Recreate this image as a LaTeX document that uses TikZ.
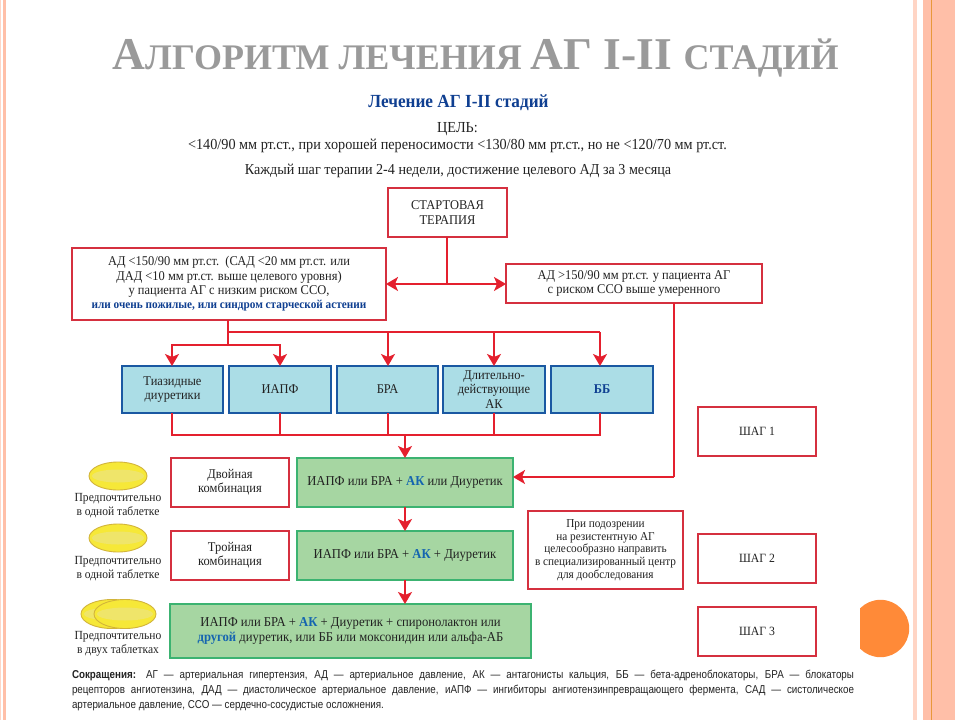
\documentclass[tikz,border=0pt]{standalone}
\usepackage{fontspec}
\setmainfont{Liberation Serif}[FakeStretch=0.93]
\newfontfamily\titlefont{Liberation Serif}
\newfontfamily\footfont{Liberation Sans}[FakeStretch=0.86]
\usetikzlibrary{arrows.meta}
\definecolor{txt}{HTML}{222222}
\definecolor{boxred}{HTML}{D5303F}
\definecolor{linered}{HTML}{E4202E}
\definecolor{bluefill}{HTML}{ABDDE6}
\definecolor{blueline}{HTML}{1A58A2}
\definecolor{greenfill}{HTML}{A6D6A2}
\definecolor{greenline}{HTML}{3CB371}
\definecolor{navy}{HTML}{0F3F91}
\definecolor{akblue}{HTML}{1565B0}
\definecolor{salmon}{HTML}{FFBFA8}
\definecolor{paleorange}{HTML}{FFD5C5}
\definecolor{stripeline}{HTML}{E8983A}
\definecolor{orangedisc}{HTML}{FF8A38}
\definecolor{titlegray}{HTML}{9A9A9A}
\definecolor{pillfill}{HTML}{F6E838}
\definecolor{pillband}{HTML}{EFE56A}
\definecolor{pillline}{HTML}{D2B43A}
\newcommand{\fsz}[2]{\fontsize{#1pt}{#2pt}\selectfont}
\tikzset{
  x=1pt,y=-1pt,
  base/.style={inner sep=0pt,outer sep=0pt,align=center,text=txt,font=\fsz{13.4}{14.4}},
  redbox/.style={base,draw=boxred,line width=1.6pt,fill=white},
  bluebox/.style={base,draw=blueline,line width=1.6pt,fill=bluefill},
  greenbox/.style={base,draw=greenline,line width=1.6pt,fill=greenfill,font=\fsz{13.6}{14.4}},
  stepbox/.style={redbox,font=\fsz{12.6}{14.4}},
  notebox/.style={redbox,font=\fsz{12.1}{12.7}},
  conn/.style={draw=linered,line width=1.8pt},
  arr/.style={conn,-{Stealth[length=12pt,width=14pt,inset=3pt,fill=linered]}},
  pill/.style={draw=pillline,line width=0.9pt,fill=pillfill},
  plain/.style={base},
  tablet/.style={base,font=\fsz{12.4}{13.6}},
}
\newcommand{\bx}[7]{% style,name,x1,y1,x2,y2,text
  \pgfmathsetmacro{\cx}{(#3+#5)/2}\pgfmathsetmacro{\cy}{(#4+#6)/2}
  \pgfmathsetmacro{\ww}{#5-#3}\pgfmathsetmacro{\hh}{#6-#4}
  \node[#1,minimum width=\ww pt,minimum height=\hh pt] (#2) at (\cx,\cy) {#7};}
\newcommand{\pillshape}[5]{% name,cx,cy,rx,ry
  \node[inner sep=0pt,minimum size=0pt] (#1) at (#2,#3) {};
  \draw[pill] (#1) ellipse [x radius=#4,y radius=#5];
  \fill[pillband] (#1) ellipse [x radius=#4-3,y radius=6.5];}
\begin{document}
\begin{tikzpicture}
\useasboundingbox (0,0) rectangle (955,720);
\fill[white] (0,0) rectangle (955,720);
% page stripes
\fill[paleorange] (0,0) rectangle (1.2,720);
\fill[salmon] (3.3,0) rectangle (6,720);
\fill[paleorange] (913,0) rectangle (917,720);
\fill[salmon] (923,0) rectangle (955,720);
\fill[stripeline] (930.6,0) rectangle (931.6,720);
% orange disc
\begin{scope}
\clip (860,590) rectangle (915,665);
\fill[orangedisc] (880.5,628.5) circle [radius=28.7];
\end{scope}
% headings
\node[plain,anchor=base,text=titlegray,font=\titlefont\bfseries\fsz{45.5}{46}] (title) at (475.5,69)
  {А\fontsize{36}{36}\selectfont ЛГОРИТМ ЛЕЧЕНИЯ \fontsize{45.5}{46}\selectfont АГ I-II \fontsize{36}{36}\selectfont СТАДИЙ};
\node[plain,text=navy,font=\bfseries\fsz{18.5}{20}] (sub) at (458.5,103) {Лечение АГ I-II стадий};
\node[plain,font=\fsz{15.3}{17}] (goal) at (457.5,137.5) {ЦЕЛЬ:\\<140/90 мм рт.ст., при хорошей переносимости <130/80 мм рт.ст., но не <120/70 мм рт.ст.};
\node[plain,font=\fsz{15.2}{17}] (every) at (458,170.5) {Каждый шаг терапии 2-4 недели, достижение целевого АД за 3 месяца};
% top boxes
\bx{redbox}{start}{388}{188}{507}{237}{СТАРТОВАЯ\\ТЕРАПИЯ}
\bx{redbox}{lowrisk}{72}{248}{386}{320}{АД <150/90 мм рт.ст.\ \ (САД <20 мм рт.ст. или\\ДАД <10 мм рт.ст. выше целевого уровня)\\у пациента АГ с низким риском ССО,\\{\color{navy}\bfseries\fsz{12.1}{14.4}или очень пожилые, или синдром старческой астении}}
\bx{redbox}{highrisk}{506}{264}{762}{303}{АД >150/90 мм рт.ст. у пациента АГ\\с риском ССО выше умеренного}
% drug classes
\bx{bluebox}{thz}{122}{366}{223}{413}{Тиазидные\\диуретики}
\bx{bluebox}{iapf}{229}{366}{331}{413}{ИАПФ}
\bx{bluebox}{bra}{337}{366}{438}{413}{БРА}
\bx{bluebox}{ak}{443}{366}{545}{413}{Длительно-\\действующие\\АК}
\bx{bluebox}{bb}{551}{366}{653}{413}{\color{navy}\bfseries ББ}
% combinations
\bx{redbox}{dual}{171}{458}{289}{507}{Двойная\\комбинация}
\bx{redbox}{triple}{171}{531}{289}{580}{Тройная\\комбинация}
\bx{greenbox}{g1}{297}{458}{513}{507}{ИАПФ или БРА + {\color{akblue}\bfseries АК} или Диуретик}
\bx{greenbox}{g2}{297}{531}{513}{580}{ИАПФ или БРА + {\color{akblue}\bfseries АК} + Диуретик}
\bx{greenbox}{g3}{170}{604}{531}{658}{ИАПФ или БРА + {\color{akblue}\bfseries АК} + Диуретик + спиронолактон или\\{\color{akblue}\bfseries другой} диуретик, или ББ или моксонидин или альфа-АБ}
\bx{notebox}{note}{528}{511}{683}{589}{При подозрении\\на резистентную АГ\\целесообразно направить\\в специализированный центр\\для дообследования}
\bx{stepbox}{s1}{698}{407}{816}{456}{ШАГ 1}
\bx{stepbox}{s2}{698}{534}{816}{583}{ШАГ 2}
\bx{stepbox}{s3}{698}{607}{816}{656}{ШАГ 3}
% pills
\pillshape{p1}{118}{476}{29}{14}
\pillshape{p2}{118}{538}{29}{14}
\pillshape{p3}{112}{614}{31}{14.5}
\pillshape{p4}{125}{614}{31}{14.5}
\node[tablet] (t1) at (118,505.5) {Предпочтительно\\в одной таблетке};
\node[tablet] (t2) at (118,568.5) {Предпочтительно\\в одной таблетке};
\node[tablet] (t3) at (118,644) {Предпочтительно\\в двух таблетках};
% junctions
\coordinate (jstart) at (447,284);
\coordinate (bus) at (228,332);
\coordinate (bus2) at (228,345);
\coordinate (rbus) at (600,332);
\coordinate (brax) at (388,332);
\coordinate (low) at (405,435);
\coordinate (hcorner) at (674,477);
\coordinate (hl) at (172,435);
\coordinate (hr) at (600,435);
% connectors
\draw[conn] (jstart |- start.south) -- (jstart);
\draw[arr] (jstart) -- (jstart -| lowrisk.east);
\draw[arr] (jstart) -- (jstart -| highrisk.west);
\draw[conn] (bus |- lowrisk.south) -- (bus2);
\draw[conn] (bus) -- (rbus);
\draw[arr] (bus2) -| (hl |- thz.north);
\draw[arr] (bus2) -| (iapf.north);
\draw[arr] (brax) -- (brax |- bra.north);
\draw[arr] (ak.north |- bus) -- (ak.north);
\draw[arr] (rbus) -- (rbus |- bb.north);
\draw[conn] (hl |- thz.south) -- (hl) -- (hr) -- (rbus |- bb.south);
\draw[conn] (iapf.south) -- (iapf.south |- low);
\draw[conn] (brax |- bra.south) -- (brax |- low);
\draw[conn] (ak.south) -- (ak.south |- low);
\draw[arr] (low) -- (low |- g1.north);
\draw[arr] (g1.south) -- (g2.north);
\draw[arr] (g2.south) -- (g2.south |- g3.north);
\draw[conn] (hcorner |- highrisk.south) -- (hcorner);
\draw[arr] (hcorner) -- (hcorner -| g1.east);
% footnote
\node[plain,anchor=north west,text width=782pt,align=justify,text=txt,font=\footfont\fsz{11.4}{14.6}] (foot) at (72,670.5)
{{\bfseries Сокращения:} АГ — артериальная гипертензия, АД — артериальное давление, АК — антагонисты кальция, ББ — бета-адреноблокаторы, БРА — блокаторы\linebreak
рецепторов ангиотензина, ДАД — диастолическое артериальное давление, иАПФ — ингибиторы ангиотензинпревращающего фермента, САД — систолическое\linebreak
артериальное давление, ССО — сердечно-сосудистые осложнения.};
\end{tikzpicture}
\end{document}
